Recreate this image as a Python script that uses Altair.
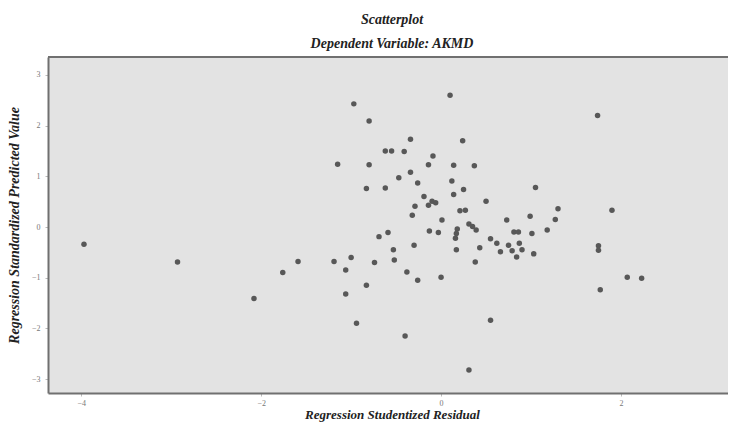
import altair as alt
import pandas as pd

# Regression Studentized Residual (x) and Regression Standardized Predicted Value (y)
residual = [
    -3.97, -2.93, -2.08, -1.76, -1.59, -1.19, -1.00, -1.06, -0.74, -0.53,
    -0.52, -0.38, -0.83, -1.06, -0.94, -0.40, -0.69, -0.59,
    -0.97, -0.80, -0.34, -0.62, -0.55, -0.41, -0.09, -1.15, -0.80, -0.14,
    -0.34, -0.47, -0.26, -0.83, -0.62, -0.19, -0.10, -0.06, -0.14, -0.29,
    -0.32, -0.13, -0.03,
    0.10, 0.24, 0.14, 0.37, 0.12, 0.25, 0.14, 1.05, 0.50, 0.21,
    0.27, 0.01, 0.73, 0.99, 1.30, 1.27, 0.31, 0.35, 0.39, 0.18,
    0.81, 0.86, 1.01, 1.18, 0.17, 0.16, 0.55,
    -0.30, 0.17, 0.43, 0.62, 0.66, 0.75, 0.79, 0.87, 0.90, 0.84,
    1.03, 0.38, -0.26, 0.00, 0.55, 0.31,
    1.74, 1.90, 1.75, 1.75, 2.07, 2.23, 1.77,
]
predicted = [
    -0.34, -0.69, -1.41, -0.90, -0.68, -0.68, -0.60, -0.85, -0.70, -0.45,
    -0.65, -0.89, -1.15, -1.32, -1.90, -2.15, -0.19, -0.11,
    2.43, 2.09, 1.73, 1.50, 1.50, 1.49, 1.40, 1.24, 1.23, 1.23,
    1.08, 0.97, 0.87, 0.76, 0.77, 0.60, 0.51, 0.48, 0.43, 0.41,
    0.23, -0.08, -0.11,
    2.60, 1.70, 1.22, 1.21, 0.91, 0.74, 0.64, 0.78, 0.51, 0.32,
    0.33, 0.14, 0.14, 0.21, 0.36, 0.15, 0.06, 0.01, -0.06, -0.04,
    -0.10, -0.10, -0.13, -0.06, -0.13, -0.22, -0.23,
    -0.36, -0.45, -0.41, -0.32, -0.49, -0.36, -0.47, -0.32, -0.45, -0.59,
    -0.53, -0.69, -1.05, -0.99, -1.84, -2.82,
    2.20, 0.33, -0.37, -0.46, -0.99, -1.01, -1.24,
]
x_ticks = [-4, -2, 0, 2]
y_ticks = [-3, -2, -1, 0, 1, 2, 3]

df = pd.DataFrame({"res": residual, "pred": predicted})

SERIF = "Liberation Serif"
W, H = 680, 336

points = alt.Chart(df).mark_circle(size=30, color="#585858", opacity=1).encode(
    x=alt.X(
        "res:Q",
        scale=alt.Scale(domain=[-4.37, 3.19], nice=False, zero=False),
        axis=alt.Axis(
            values=x_ticks,
            title="Regression Studentized Residual",
            titleFont=SERIF, titleFontStyle="italic", titleFontWeight="bold",
            titleFontSize=13, titleColor="#222", titlePadding=1,
            titleX=344,
            labelFont=SERIF, labelFontSize=8, labelColor="#777",
            labelPadding=3,
            tickSize=3, tickColor="#bbb",
            domainColor="#707070", domainWidth=2, grid=False,
        ),
    ),
    y=alt.Y(
        "pred:Q",
        scale=alt.Scale(domain=[-3.276, 3.355], nice=False, zero=False),
        axis=alt.Axis(
            values=y_ticks,
            title="Regression Standardized Predicted Value",
            titleFont=SERIF, titleFontStyle="italic", titleFontWeight="bold",
            titleFontSize=14, titleColor="#222", titlePadding=10,
            labelFont=SERIF, labelFontSize=8, labelColor="#777",
            labelPadding=5,
            tickSize=3, tickColor="#bbb",
            domainColor="#707070", domainWidth=2, grid=False,
        ),
    ),
)

top_border = alt.Chart(df).mark_rule(color="#707070", strokeWidth=2).encode(
    x=alt.value(0), x2=alt.value(W), y=alt.value(0)
)

chart = (
    alt.layer(points, top_border)
    .properties(
        width=W,
        height=H,
        padding={"left": 40, "top": 49, "right": 0, "bottom": 30},
        autosize=alt.AutoSizeParams(type="none"),
        title=alt.TitleParams(
            text="Scatterplot",
            subtitle="Dependent Variable: AKMD",
            font=SERIF, fontStyle="italic", fontWeight="bold", fontSize=14,
            color="#222",
            subtitleFont=SERIF, subtitleFontStyle="italic",
            subtitleFontWeight="bold", subtitleFontSize=14,
            subtitleColor="#222", subtitlePadding=10,
            anchor="middle", offset=5, dx=4,
        ),
        background="white",
    )
    .configure_view(fill="#e3e3e3", stroke=None)
)

chart.save("out.html", embed_options={"renderer": "svg", "actions": False})
